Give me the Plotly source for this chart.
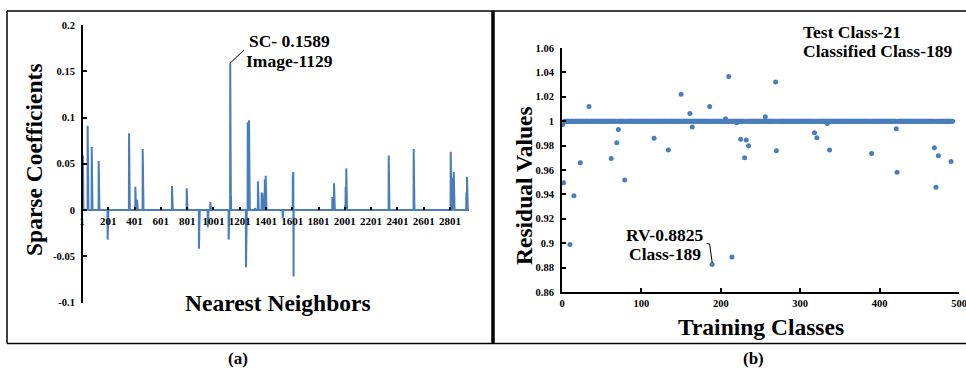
import plotly.graph_objects as go

W, H = 966, 369

# ---------------- Panel (a) data: sparse coefficients ----------------
n_neighbors = 2946
spike_index = [3, 8, 44, 75, 128, 196, 359, 407, 420, 463, 686, 798, 891, 958, 977,
               1117, 1129, 1135, 1249, 1262, 1272, 1318, 1340, 1368, 1374, 1392, 1399,
               1528, 1605, 1609, 1611, 1906, 1919, 2003, 2007, 2012, 2335, 2525, 2807,
               2817, 2824, 2830, 2926, 2931]
spike_value = [0.035, 0.059, 0.091, 0.068, 0.053, -0.032, 0.083, 0.025, 0.011, 0.066,
               0.026, 0.0235, -0.042, -0.019, 0.0086, -0.032, 0.1589, 0.015, -0.062,
               0.095, 0.097, 0.002, 0.031, 0.019, 0.018, 0.033, 0.037, -0.009, 0.035,
               0.041, -0.072, 0.014, 0.029, 0.005, 0.025, 0.045, 0.059, 0.066, 0.063,
               0.035, 0.025, 0.041, 0.019, 0.036]
a_xticks = [1, 201, 401, 601, 801, 1001, 1201, 1401, 1601, 1801, 2001, 2201, 2401, 2601, 2801]
a_yticks = [-0.1, -0.05, 0, 0.05, 0.1, 0.15, 0.2]
a_yticklabels = ["-0.1", "-0.05", "0", "0.05", "0.1", "0.15", "0.2"]

# ---------------- Panel (b) data: residual values ----------------
n_classes = 492
base_residual = 1.0
outlier_class = [1, 2, 10, 15, 23, 34, 62, 69, 71, 79, 116, 134, 150, 161, 164, 186, 189,
                 206, 210, 214, 220, 225, 230, 232, 235, 256, 269, 270, 318, 321, 334, 337,
                 390, 421, 422, 469, 471, 474, 490]
outlier_value = [0.9973, 0.9495, 0.899, 0.9388, 0.9659, 1.0121, 0.9694, 0.9823, 0.9932,
                 0.9519, 0.9861, 0.9763, 1.022, 1.0064, 0.9952, 1.0121, 0.8825, 1.002,
                 1.0367, 0.8887, 0.9987, 0.9853, 0.970, 0.9845, 0.9798, 1.0036, 1.0321,
                 0.9757, 0.9905, 0.9864, 0.9982, 0.9763, 0.9735, 0.9938, 0.9582, 0.9782,
                 0.9459, 0.9716, 0.967]
b_xticks = [0, 100, 200, 300, 400, 500]
b_yticks = [0.86, 0.88, 0.9, 0.92, 0.94, 0.96, 0.98, 1.0, 1.02, 1.04, 1.06]
b_yticklabels = ["0.86", "0.88", "0.9", "0.92", "0.94", "0.96", "0.98", "1", "1.02", "1.04", "1.06"]

# build series
a_x = list(range(1, n_neighbors + 1))
a_y = [0.0] * n_neighbors
for i, v in zip(spike_index, spike_value):
    a_y[i - 1] = v

b_x = list(range(1, n_classes + 1))
b_y = [base_residual] * n_classes
for c, v in zip(outlier_class, outlier_value):
    b_y[c - 1] = v

def px(x):
    return x / W

def py(y):
    return 1 - y / H

BLUE = "#4a7ebb"
FONT = "Liberation Serif"

fig = go.Figure()
fig.add_trace(go.Scatter(x=a_x, y=a_y, mode="lines", line=dict(color=BLUE, width=2),
                         xaxis="x", yaxis="y", showlegend=False, hoverinfo="skip"))
fig.add_trace(go.Scatter(x=b_x, y=b_y, mode="markers", marker=dict(color=BLUE, size=5),
                         xaxis="x2", yaxis="y2", showlegend=False))

tick_font_small = dict(family=FONT, size=10.5, color="black", weight="bold")
tick_font_x = dict(family=FONT, size=11, color="black", weight="bold")

fig.update_layout(
    width=W, height=H,
    margin=dict(l=0, r=0, t=0, b=0, autoexpand=False),
    paper_bgcolor="white", plot_bgcolor="rgba(0,0,0,0)",
    xaxis=dict(domain=[px(82), px(469)], range=[1, n_neighbors], anchor="free",
               position=py(210), showline=False, showgrid=False, zeroline=False,
               automargin=False,
               tickmode="array", tickvals=a_xticks, ticktext=[str(t) for t in a_xticks],
               ticks="inside", ticklen=3, tickwidth=2, tickcolor="black",
               tickfont=tick_font_x, ticklabelstandoff=3),
    yaxis=dict(domain=[py(302.5), py(25)], range=[-0.1, 0.2], anchor="free",
               position=px(82), showline=True, linecolor="black", linewidth=2,
               showgrid=False, zeroline=False, automargin=False,
               tickmode="array", tickvals=a_yticks,
               ticktext=a_yticklabels, ticks="inside", ticklen=4, tickwidth=2,
               tickcolor="black", tickfont=tick_font_small, ticklabelstandoff=4),
    xaxis2=dict(domain=[px(562), px(959)], range=[0, 500], anchor="y2",
                showline=True, linecolor="black", linewidth=2, showgrid=False,
                zeroline=False, automargin=False, tickmode="array", tickvals=b_xticks,
                ticktext=[str(t) for t in b_xticks], ticks="inside", ticklen=4,
                tickwidth=2, tickcolor="black", tickfont=tick_font_small,
                ticklabeloverflow="allow"),
    yaxis2=dict(domain=[py(292), py(48)], range=[0.86, 1.06], anchor="x2",
                showline=True, linecolor="black", linewidth=2, showgrid=False,
                zeroline=False, automargin=False, tickmode="array", tickvals=b_yticks,
                ticktext=b_yticklabels, ticks="inside", ticklen=4, tickwidth=2,
                tickcolor="black", tickfont=tick_font_small, ticklabelstandoff=4),
)

def txt(text, x, y, size, xanchor="center", yanchor="middle", align="center", angle=0):
    fig.add_annotation(text=text, x=px(x), y=py(y), xref="paper", yref="paper",
                       showarrow=False, xanchor=xanchor, yanchor=yanchor, align=align,
                       textangle=angle,
                       font=dict(family=FONT, size=size, color="black", weight="bold"))

# axis titles
txt("Sparse Coefficients", 34, 160, 23.5, angle=-90)
txt("Nearest Neighbors", 278, 303, 23.5)
txt("Residual Values", 524, 186, 23.5, angle=-90)
txt("Training Classes", 761, 327, 23.5)

# panel labels
txt("(a)", 238, 358, 17)
txt("(b)", 753, 358, 17)

# annotations (one per line)
txt("SC- 0.1589", 289.5, 41, 17.5)
txt("Image-1129", 289.5, 61, 17.5)
txt("Test Class-21", 801, 32, 17.5, xanchor="left", align="left")
txt("Classified Class-189", 801, 51, 17.5, xanchor="left", align="left")
txt("RV-0.8825", 665, 235, 17.5)
txt("Class-189", 665, 254, 17.5)

# leader lines
fig.add_shape(type="line", xref="x", yref="y", x0=1129, y0=0.1589, x1=1234, y1=0.173,
              line=dict(color="black", width=1))
fig.add_shape(type="path", xref="x2", yref="y2",
              path="M 182.2 0.8998 L 186 0.8993 L 189.2 0.8838",
              line=dict(color="black", width=1))

# panel borders
def pline(x0, y0, x1, y1, w):
    fig.add_shape(type="line", xref="paper", yref="paper", x0=px(x0), y0=py(y0),
                  x1=px(x1), y1=py(y1), line=dict(color="black", width=w))

pline(7, 11, 966, 11, 1.5)
pline(7, 343.5, 966, 343.5, 1.5)
pline(7, 11, 7, 343.5, 1.5)
pline(493, 11, 493, 343.5, 3.5)

fig.write_html(
    "out.html",
    config={"displayModeBar": False},
    post_script="document.body.style.margin='0';document.body.style.overflow='hidden';",
)
